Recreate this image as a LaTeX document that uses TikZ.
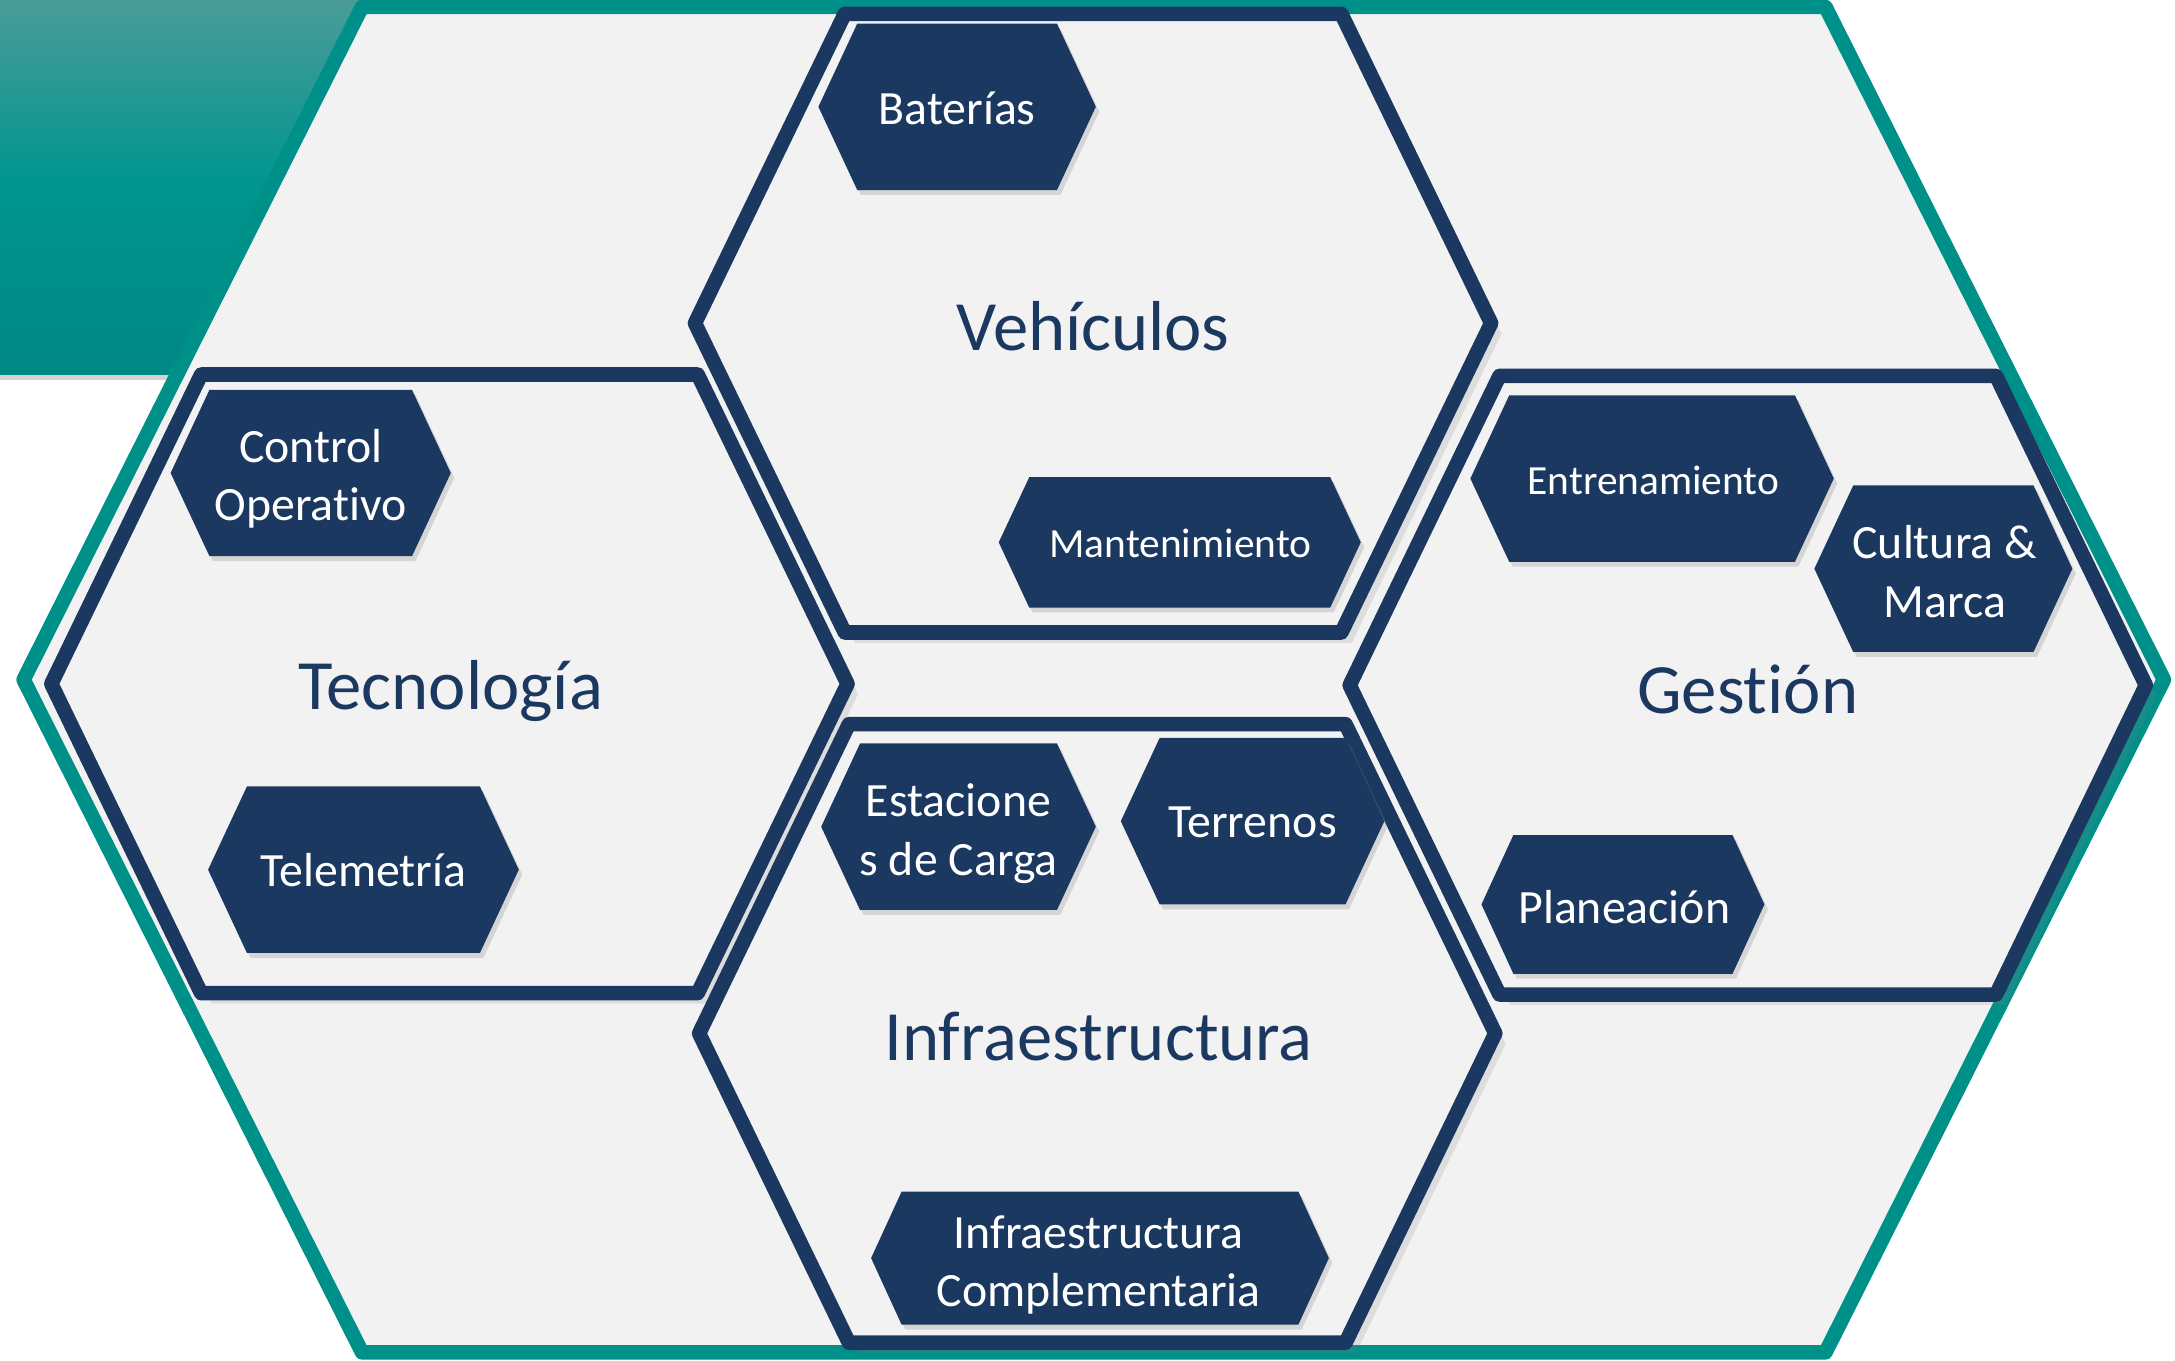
\documentclass[tikz,border=0pt]{standalone}
\usepackage{fontspec}
\setmainfont{Carlito}[Ligatures=CommonOff]
\usetikzlibrary{shadows}
\definecolor{navy}{HTML}{1B3861}
\definecolor{tealline}{HTML}{00908A}
\definecolor{tealtop}{HTML}{4C9C99}
\definecolor{tealmid}{HTML}{00958F}
\definecolor{tealbottom}{HTML}{008884}
\definecolor{panel}{HTML}{F2F2F2}
% hexagon with pointed left/right ends: [style]{cx}{cy}{half width}{half height}{inset}
\newcommand{\hexshape}[6][]{%
  \path[#1] ({#2-#4},{#3}) -- ({#2-#4+#6},{#3+#5}) -- ({#2+#4-#6},{#3+#5})
    -- ({#2+#4},{#3}) -- ({#2+#4-#6},{#3-#5}) -- ({#2-#4+#6},{#3-#5}) -- cycle;}

\begin{document}
\begin{tikzpicture}[x=0.2mm, y=0.2mm,
    outerframe/.style={draw=tealline, line width=2.1mm, fill=panel, line join=round,
      drop shadow={shadow xshift=0.4mm, shadow yshift=-0.6mm, opacity=0.15}},
    bigframe/.style={draw=navy, line width=2.1mm, fill=panel, line join=round,
      drop shadow={shadow xshift=1.5mm, shadow yshift=-1.5mm, opacity=0.18}},
    tile/.style={fill=navy,
      drop shadow={shadow xshift=0.5mm, shadow yshift=-0.7mm, opacity=0.25}},
    bigtitle/.style={text=navy, font=\fontsize{29}{35}\selectfont},
    tiletext/.style={text=white, align=center, inner sep=0pt, font=\fontsize{19.6}{23.9}\selectfont},
    tilesmall/.style={tiletext, font=\fontsize{17}{21}\selectfont}]
    \useasboundingbox (0,0) rectangle (1568,981);

    % corner band behind the frame
    \fill[top color=tealtop, bottom color=tealbottom, middle color=tealmid,
      drop shadow={shadow xshift=0mm, shadow yshift=-0.8mm, opacity=0.35}] (0,711) rectangle (640,985);

    \hexshape[outerframe]{788.5}{491}{771.5}{485}{244}

    \hexshape[bigframe]{788}{748}{287}{223}{108}
    \hexshape[bigframe]{324}{488}{287}{223}{108}
    \hexshape[bigframe]{1260}{487}{287}{223}{108}
    \hexshape[bigframe]{791}{236}{287}{223}{108}

    \node[bigtitle] (vehiculos) at (788,746) {Vehículos};
    \node[bigtitle] (tecnologia) at (325,483) {Tecnología};
    \node[bigtitle] (gestion) at (1260,484) {Gestión};
    \node[bigtitle] (infraestructura) at (792,234) {Infraestructura};

    \hexshape[tile]{690}{904}{100}{60}{28}
    \hexshape[tile]{850.5}{590}{130.5}{47}{22}
    \hexshape[tile]{224}{640}{101}{60}{28}
    \hexshape[tile]{262}{354}{112}{60}{28}
    \hexshape[tile]{1191}{636}{131}{60}{28}
    \hexshape[tile]{1401}{571}{93}{60}{28}
    \hexshape[tile]{1170}{329}{102}{50}{23}
    \hexshape[tile]{691}{385}{99}{60}{28}
    \hexshape[tile]{903}{389}{95}{60}{28}
    \hexshape[tile]{793}{74}{165}{48}{22}

    \node[tiletext] (baterias) at (690,903) {Baterías};
    \node[tilesmall] (mantenimiento) at (851,589) {Mantenimiento};
    \node[tiletext] (control) at (224,636) {Control\\Operativo};
    \node[tiletext] (telemetria) at (262,354) {Telemetría};
    \node[tilesmall] (entrenamiento) at (1192,635) {Entrenamiento};
    \node[tiletext] (cultura) at (1402,569) {Cultura \&\\Marca};
    \node[tiletext] (planeacion) at (1171,327) {Planeación};
    \node[tiletext] (estaciones) at (691,380) {Estacione\\s de Carga};
    \node[tiletext] (terrenos) at (903,388) {Terrenos};
    \node[tiletext] (complementaria) at (792,69) {Infraestructura\\Complementaria};
\end{tikzpicture}
\end{document}
